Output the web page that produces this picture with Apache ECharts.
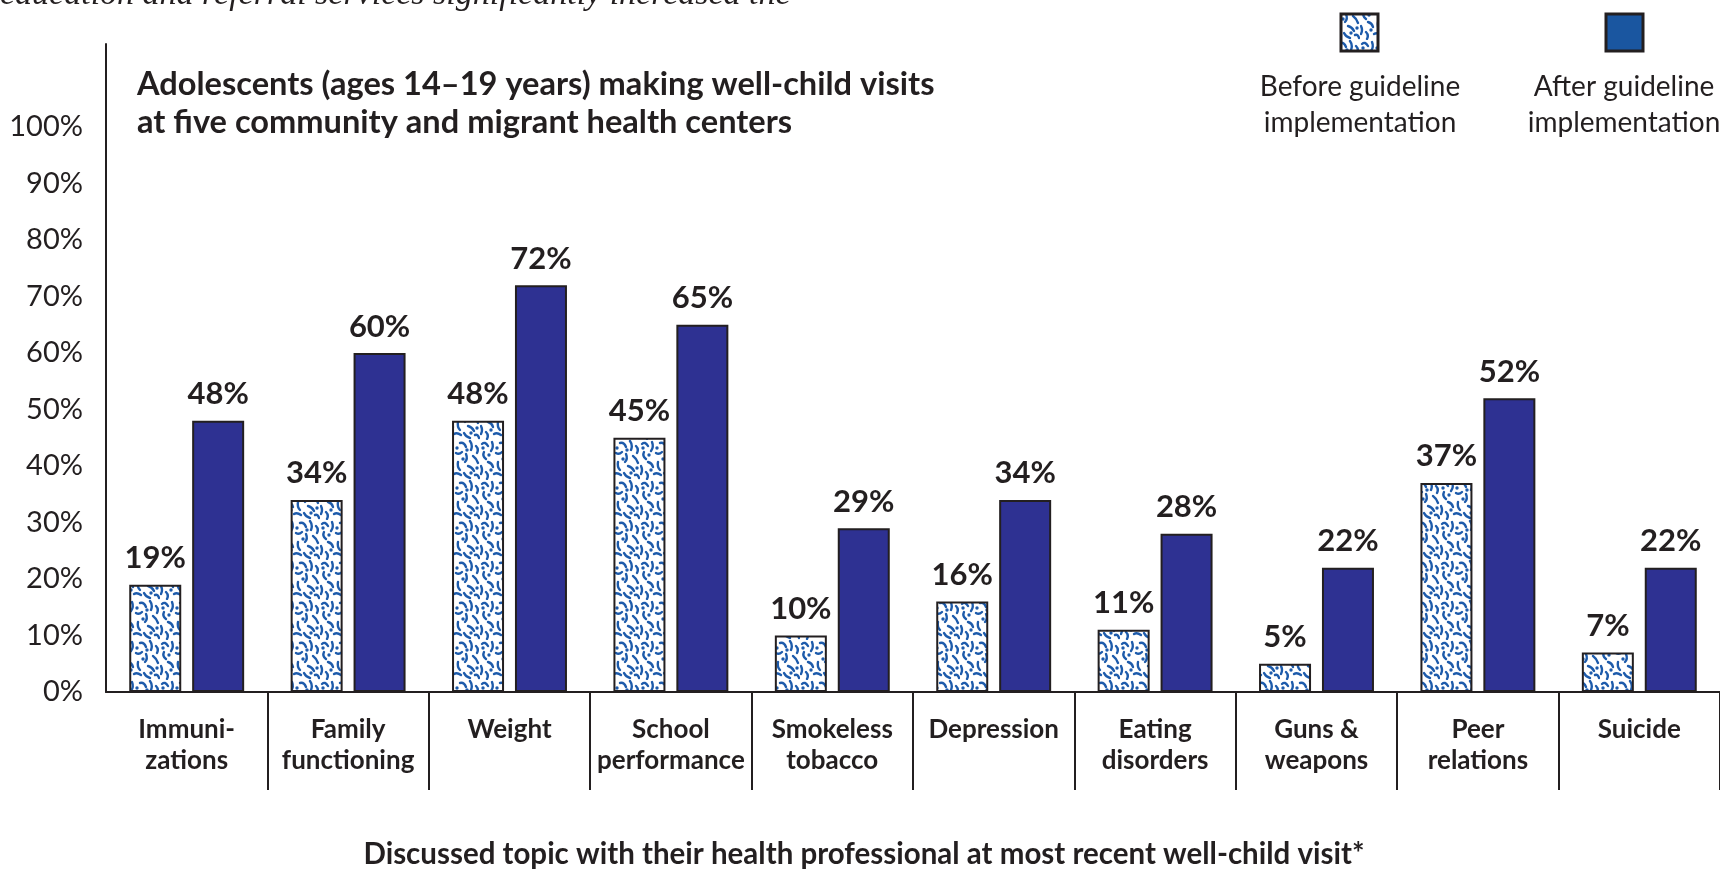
<!DOCTYPE html>
<html>
<head>
<meta charset="utf-8">
<script src="https://cdn.jsdelivr.net/npm/echarts@6/dist/echarts.min.js"></script>
<style>
  html, body { margin: 0; padding: 0; background: #ffffff; }
  #chart { width: 1720px; height: 872px; }
</style>
</head>
<body>
<div id="chart"></div>
<script>
// Topics discussed at the most recent well-child visit
const categories = [
  'Immuni-\nzations', 'Family\nfunctioning', 'Weight', 'School\nperformance',
  'Smokeless\ntobacco', 'Depression', 'Eating\ndisorders', 'Guns &\nweapons',
  'Peer\nrelations', 'Suicide'
];
const beforeValues = [19, 34, 48, 45, 10, 16, 11, 5, 37, 7];
const afterValues = [48, 60, 72, 65, 29, 34, 28, 22, 52, 22];
const seriesNames = ['Before guideline\nimplementation', 'After guideline\nimplementation'];
const yTicks = [0, 10, 20, 30, 40, 50, 60, 70, 80, 90, 100];

const INK = '#231f20';
const NAVY = '#2e3192';
const SPECKLE = '#1d5bab';
const HEAVY = 'bold';

// Speckled fill tile for the "before" bars
function makeSpeckleTile() {
  const c = document.createElement('canvas');
  c.width = 40; c.height = 40;
  const g = c.getContext('2d');
  g.fillStyle = '#ffffff';
  g.fillRect(0, 0, 40, 40);
  g.strokeStyle = SPECKLE;
  g.lineWidth = 2.4;
  g.lineCap = 'round';
  const strokes = [
    [2,4, 5,1, 8,6], [12,2, 14,7, 11,11], [20,3, 24,2, 26,7], [30,1, 33,5, 31,10],
    [36,6, 39,9, 37,13], [4,12, 2,16, 6,19], [16,13, 19,15, 22,12], [26,14, 28,19, 25,22],
    [33,16, 36,18, 38,23], [8,22, 12,23, 13,27], [1,26, 3,30, 1,34], [18,22, 17,27, 20,30],
    [28,26, 32,27, 34,31], [6,32, 9,35, 7,39], [14,34, 17,32, 21,35], [24,33, 26,37, 30,38],
    [35,35, 38,34, 39,38]
  ];
  strokes.forEach(s => {
    g.beginPath();
    g.moveTo(s[0], s[1]);
    g.quadraticCurveTo(s[2], s[3], s[4], s[5]);
    g.stroke();
  });
  g.fillStyle = SPECKLE;
  [[9,15],[23,19],[3,8],[31,33],[17,8],[11,30],[37,28],[27,10]].forEach(p => {
    g.beginPath();
    g.arc(p[0], p[1], 1.7, 0, Math.PI * 2);
    g.fill();
  });
  return c;
}
const speckle = { image: makeSpeckleTile(), repeat: 'repeat' };

const chart = echarts.init(document.getElementById('chart'));

const barLabel = {
  show: true,
  position: 'top',
  distance: 11,
  formatter: '{c}%',
  fontFamily: 'Lato',
  fontWeight: HEAVY,
  fontSize: 31,
  color: INK
};

chart.setOption({
  animation: false,
  backgroundColor: '#ffffff',
  grid: { left: 106, top: 44, width: 1619, height: 648, containLabel: false },
  xAxis: {
    type: 'category',
    data: categories,
    boundaryGap: true,
    axisLine: { show: true, lineStyle: { color: INK, width: 2 } },
    axisTick: {
      show: true,
      interval: function (idx) { return idx > 0; },
      length: 98,
      lineStyle: { color: INK, width: 2 }
    },
    axisLabel: {
      interval: 0,
      margin: 22,
      fontFamily: 'Lato',
      fontWeight: HEAVY,
      fontSize: 26,
      lineHeight: 31,
      color: INK,
      align: 'center'
    },
    splitLine: { show: false }
  },
  yAxis: {
    type: 'value',
    min: 0,
    max: 114.7,
    interval: 10,
    axisLine: { show: true, lineStyle: { color: INK, width: 2 } },
    axisTick: { show: false },
    splitLine: { show: false },
    axisLabel: {
      margin: 23,
      fontFamily: 'Lato',
      fontSize: 29,
      color: INK,
      showMaxLabel: false,
      formatter: function (v) { return yTicks.indexOf(v) >= 0 ? v + '%' : ''; }
    }
  },
  series: [
    {
      name: seriesNames[0],
      type: 'bar',
      data: beforeValues,
      barWidth: 52,
      barGap: '21%',
      itemStyle: { color: speckle, borderColor: INK, borderWidth: 2 },
      label: barLabel
    },
    {
      name: seriesNames[1],
      type: 'bar',
      data: afterValues,
      barWidth: 52,
      itemStyle: { color: NAVY, borderColor: INK, borderWidth: 2 },
      label: barLabel
    }
  ],
  graphic: [
    // running text from the page above, cut at the top edge
    {
      type: 'text', x: 0, y: 12,
      style: {
        text: 'education and referral services significantly increased the',
        verticalAlign: 'bottom',
        fontFamily: 'Liberation Serif', fontStyle: 'italic', fontSize: 34, fill: INK
      }
    },
    // chart heading
    {
      type: 'text', left: 137, top: 65,
      style: {
        text: 'Adolescents (ages 14\u201319 years) making well-child visits\nat five community and migrant health centers',
        fontFamily: 'Lato', fontWeight: HEAVY, fontSize: 32.6, lineHeight: 38, fill: INK
      }
    },
    // legend: before
    {
      type: 'rect', shape: { x: 1341, y: 14, width: 37, height: 37 },
      style: { fill: speckle, stroke: INK, lineWidth: 3 }
    },
    {
      type: 'text', x: 1360, y: 69,
      style: {
        text: seriesNames[0], align: 'center',
        fontFamily: 'Lato', fontSize: 28, lineHeight: 36, fill: INK
      }
    },
    // legend: after
    {
      type: 'rect', shape: { x: 1606, y: 14, width: 37, height: 37 },
      style: { fill: '#1a56a0', stroke: INK, lineWidth: 3 }
    },
    {
      type: 'text', x: 1624, y: 69,
      style: {
        text: seriesNames[1], align: 'center',
        fontFamily: 'Lato', fontSize: 28, lineHeight: 36, fill: INK
      }
    },
    // x-axis title
    {
      type: 'text', x: 864, y: 839,
      style: {
        text: 'Discussed topic with their health professional at most recent well-child visit*',
        align: 'center', fontFamily: 'Lato', fontWeight: HEAVY, fontSize: 29.5, fill: INK
      }
    }
  ]
});
</script>
</body>
</html>
